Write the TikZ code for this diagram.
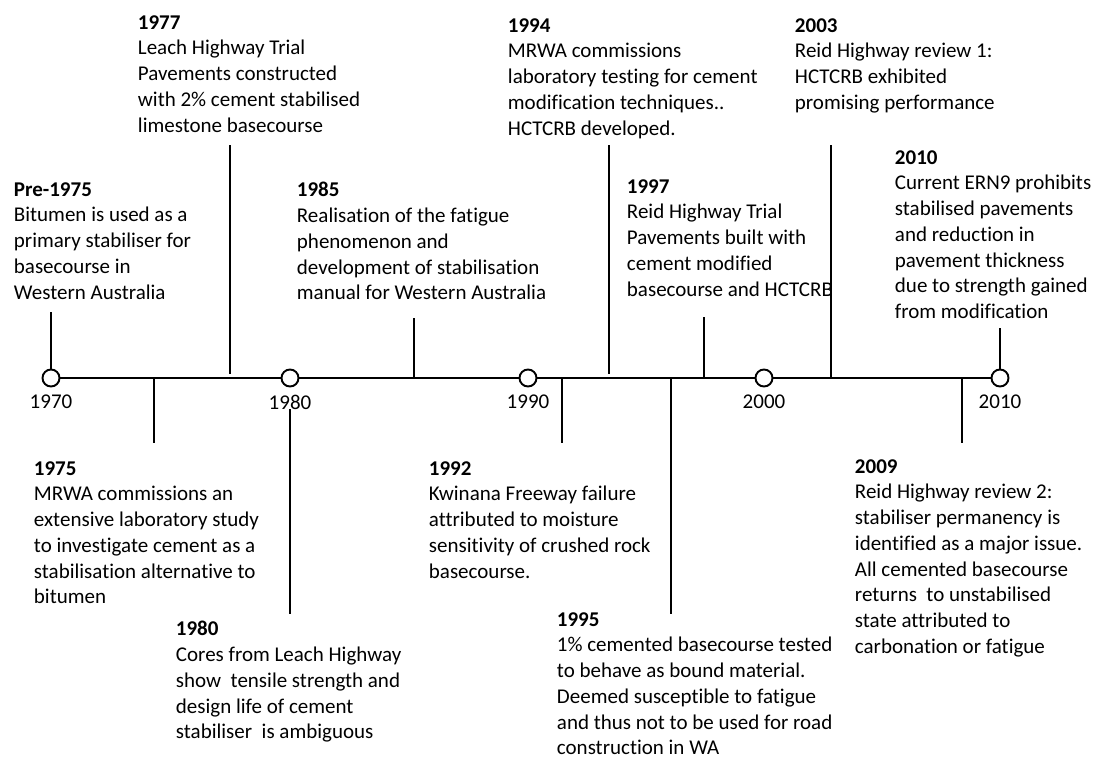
\documentclass[tikz,border=0pt]{standalone}
\usepackage{fontspec}
\setmainfont{Carlito}[Ligatures=NoCommon]
\tikzset{
    decade/.style={circle,draw,fill=white,minimum size=17pt,inner sep=0pt},
    event/.style={anchor=north west,align=left,inner sep=0pt,font=\fontsize{21}{25.7}\selectfont},
}
\begin{document}
\begin{tikzpicture}[x=1pt,y=-1pt,line width=1.9pt]
    \useasboundingbox (0,0) rectangle (1104,758);
    \foreach \yr/\x in {1970/51,1980/290,1990/528,2000/764,2010/1000}
    {
    \node[decade] (c\yr) at (\x,378) {};
    \node[font=\fontsize{21}{25.7}\selectfont,inner sep=0pt] (l\yr) at (\x,402) {\yr};
    }
    \draw (c1970) -- (c1980) -- (c1990) -- (c2000) -- (c2010);
    \foreach \ev/\x/\ya/\yb in {1975/154/378/443,1977/230/145/374,1980/290/409/614,1985/414/318/378,
        1992/562/378/443,1994/609/145/374,1995/671/378/614,1997/704/317/378,2003/831/145/378,2009/962/378/443}
    {
    \coordinate (t\ev) at (\x,\ya);
    \coordinate (b\ev) at (\x,\yb);
    \draw (t\ev) -- (b\ev);
    }
    \coordinate (tpre) at (51,312);
    \coordinate (t2010) at (1000,328);
    \draw (tpre) -- (c1970);
    \draw (t2010) -- (c2010);
    \node[event] (epre) at (13,181.5) {\textbf{Pre-1975}\\Bitumen is used as a\\primary stabiliser for\\basecourse in\\Western Australia};
    \node[event] (e1977) at (137,14.5) {\textbf{1977}\\Leach Highway Trial\\Pavements constructed\\with 2\% cement stabilised\\limestone basecourse};
    \node[event] (e1985) at (296,181.5) {\textbf{1985}\\Realisation of the fatigue\\phenomenon and\\development of stabilisation\\manual for Western Australia};
    \node[event] (e1994) at (507,17.5) {\textbf{1994}\\MRWA commissions\\laboratory testing for cement\\modification techniques..\\HCTCRB developed.};
    \node[event] (e1997) at (626,178.5) {\textbf{1997}\\Reid Highway Trial\\Pavements built with\\cement modified\\basecourse and HCTCRB};
    \node[event] (e2003) at (794,17.5) {\textbf{2003}\\Reid Highway review 1:\\HCTCRB exhibited\\promising performance};
    \node[event] (e2010) at (894,149.5) {\textbf{2010}\\Current ERN9 prohibits\\stabilised pavements\\and reduction in\\pavement thickness\\due to strength gained\\from modification};
    \node[event] (e1975) at (33,460.5) {\textbf{1975}\\MRWA commissions an\\extensive laboratory study\\to investigate cement as a\\stabilisation alternative to\\bitumen};
    \node[event] (e1980) at (175,620.5) {\textbf{1980}\\Cores from Leach Highway\\show\ \ tensile strength and\\design life of cement\\stabiliser\ \ is ambiguous};
    \node[event] (e1992) at (428,460.5) {\textbf{1992}\\Kwinana Freeway failure\\attributed to moisture\\sensitivity of crushed rock\\basecourse.};
    \node[event] (e1995) at (556,611.5) {\textbf{1995}\\1\% cemented basecourse tested\\to behave as bound material.\\Deemed susceptible to fatigue\\and thus not to be used for road\\construction in WA};
    \node[event] (e2009) at (854,458.5) {\textbf{2009}\\Reid Highway review 2:\\stabiliser permanency is\\identified as a major issue.\\All cemented basecourse\\returns\ \ to unstabilised\\state attributed to\\carbonation or fatigue};
\end{tikzpicture}
\end{document}
